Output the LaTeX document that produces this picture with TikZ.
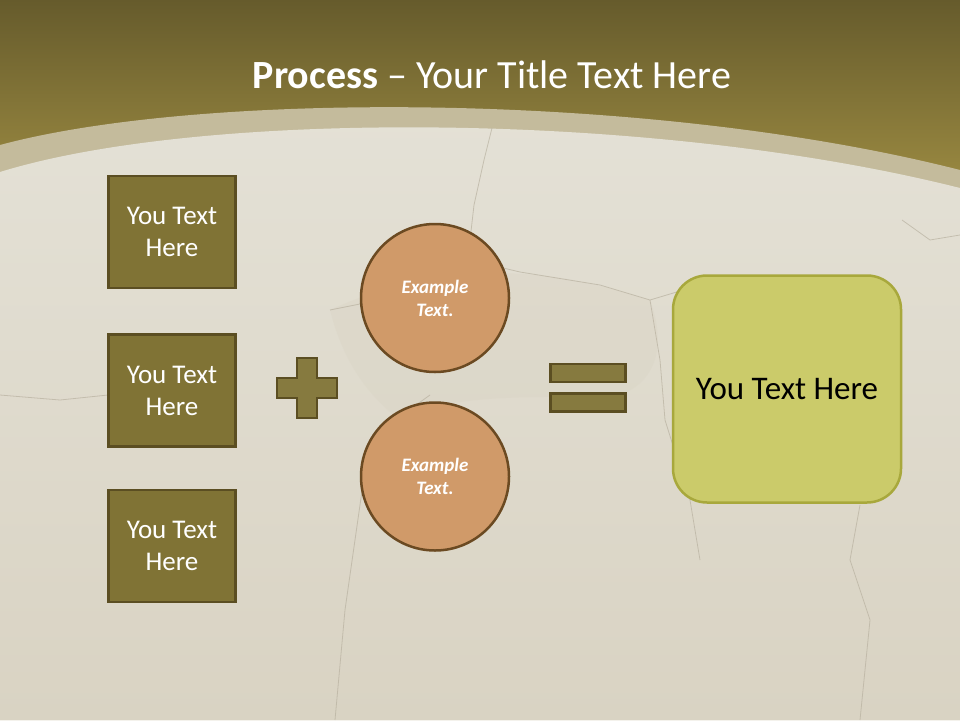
\documentclass[tikz,border=0pt]{standalone}
\usepackage{fontspec}
\setmainfont{Carlito}
\usetikzlibrary{positioning}
\definecolor{headtop}{HTML}{665B2C}
\definecolor{headbot}{HTML}{9D8C42}
\definecolor{bandtan}{HTML}{C4BB9C}
\definecolor{paperlt}{HTML}{E4E1D6}
\definecolor{paperdk}{HTML}{D9D3C3}
\definecolor{crackgray}{HTML}{B8B1A0}
\definecolor{olive}{HTML}{807335}
\definecolor{olivedark}{HTML}{5B4E22}
\definecolor{clay}{HTML}{D09A69}
\definecolor{claydark}{HTML}{6B4A22}
\definecolor{lime}{HTML}{CBCB6A}
\definecolor{limedark}{HTML}{A8A83C}

\begin{document}
\begin{tikzpicture}[x=1pt, y=-1pt,
      every node/.style={text=white},
      block/.style={
        draw=olivedark, fill=olive, line width=2.5pt,
        minimum width=127pt, minimum height=112pt,
        align=center, font=\fontsize{27}{32}\selectfont
      },
      bubble/.style={
        circle, draw=claydark, fill=clay, line width=2.5pt,
        minimum size=148pt, align=center,
        font=\fontsize{19}{23}\selectfont\bfseries\itshape
      },
      bar/.style={
        draw=olivedark, fill=olive!95!white, line width=2.5pt,
        minimum width=75pt, minimum height=18pt
      },
      result/.style={
        draw=limedark, fill=lime, line width=2.5pt, rounded corners=34pt,
        minimum width=228pt, minimum height=227pt,
        text=black, font=\fontsize{33}{36}\selectfont
      },
      crack/.style={crackgray, line width=0.8pt, opacity=0.7}
    ]
      \useasboundingbox (0,0) rectangle (960,720);
      \shade[top color=headtop, bottom color=headbot] (0,0) rectangle (960,195);
      \fill[bandtan] (0,145) .. controls (200,91) and (650,91) .. (960,170)
        -- (960,720) -- (0,720) -- cycle;
      \shade[top color=paperlt, bottom color=paperdk]
        (0,172) .. controls (200,110) and (650,110) .. (960,188)
        -- (960,720) -- (0,720) -- cycle;
      \fill[paperdk, opacity=0.35] (330,310) .. controls (450,255) and (560,270) .. (650,300)
        .. controls (665,340) and (660,380) .. (620,395)
        .. controls (540,400) and (460,390) .. (400,420)
        .. controls (360,390) and (340,350) .. (330,310) -- cycle;
      \draw[crack] (492,128) -- (484,160) -- (474,205) -- (470,240) -- (478,262)
        -- (520,272) -- (600,285) -- (650,300) -- (700,285);
      \draw[crack] (478,262) -- (430,285) -- (380,300) -- (330,310);
      \draw[crack] (430,395) -- (395,420) -- (365,470) -- (355,540) -- (345,610) -- (335,720);
      \draw[crack] (650,300) -- (660,360) -- (665,420) -- (690,500) -- (700,560);
      \draw[crack] (0,395) -- (60,400) -- (108,395);
      \draw[crack] (860,505) -- (850,560) -- (870,620) -- (860,720);
      \draw[crack] (902,220) -- (930,240) -- (960,235);
      \node[font=\fontsize{40}{44}\selectfont] (t) at (492,75) {%
        \textbf{Process} – Your Title Text Here};
      \node[block] (b1) at (172,232) {You Text\\Here};
      \node[block, below=44pt of b1] (b2) {You Text\\Here};
      \node[block, below=41pt of b2] (b3) {You Text\\Here};
      \draw[draw=olivedark, fill=olive!95!white, line width=2.5pt]
        (297,358) -- (317,358) -- (317,378) -- (337,378) -- (337,398) -- (317,398)
        -- (317,418) -- (297,418) -- (297,398) -- (277,398) -- (277,378) -- (297,378) -- cycle;
      \node[bubble] (c1) at (435,298) {Example\\Text.};
      \node[bubble, below=28pt of c1] (c2) {Example\\Text.};
      \node[bar] (e1) at (588,373) {};
      \node[bar, below=9pt of e1] (e2) {};
      \node[result] (r) at (787,389) {You Text Here};
    \end{tikzpicture}
\end{document}
